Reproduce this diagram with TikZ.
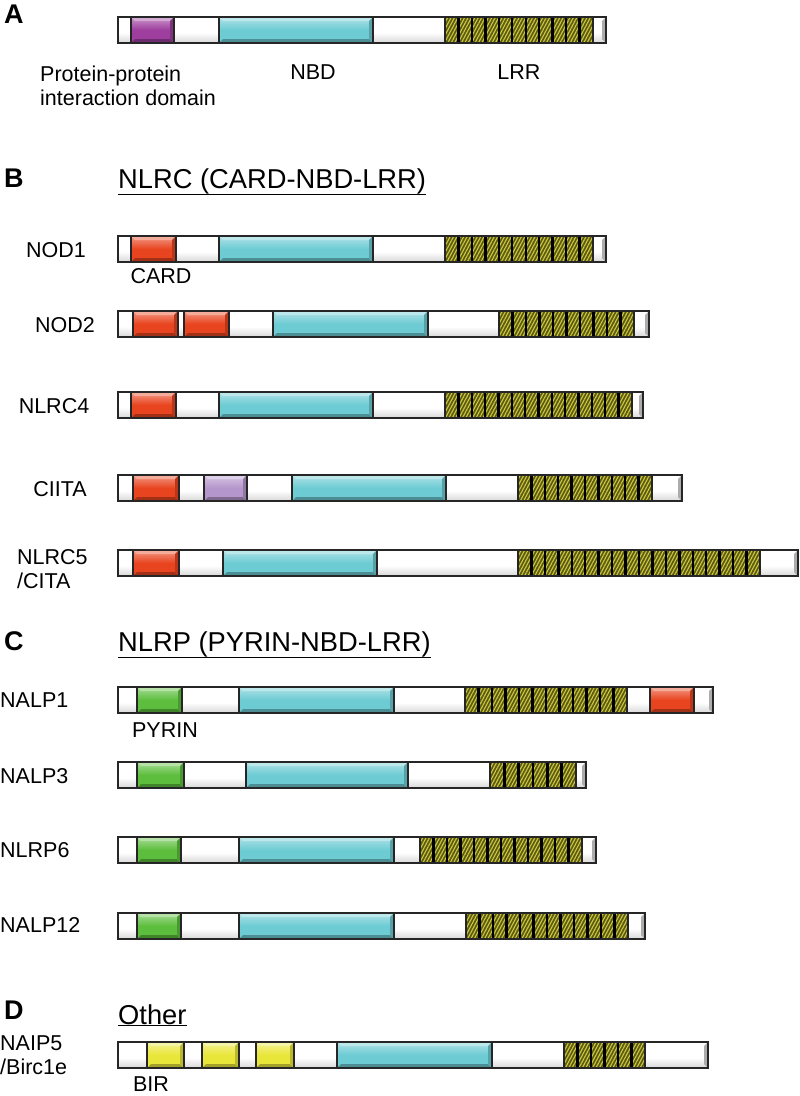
\documentclass[tikz,border=0pt]{standalone}
\usepackage{fontspec}
\setmainfont{Liberation Sans}
\usetikzlibrary{positioning, patterns.meta}
\definecolor{nbdcyan}{HTML}{6DCBD3}
\definecolor{cardred}{HTML}{E8441F}
\definecolor{ppipurple}{HTML}{9E3E9E}
\definecolor{lilac}{HTML}{B596CC}
\definecolor{pyringreen}{HTML}{5DBE3E}
\definecolor{biryellow}{HTML}{E9E63A}
\definecolor{lrrolive}{HTML}{5A5A10}
\definecolor{lrrstripe}{HTML}{CFC842}

\pgfdeclareverticalshading{capshade}{100bp}{color(0bp)=(gray!70); color(45bp)=(white); color(100bp)=(white)}
\def\barht{26}

% white linker and end cap
\newcommand{\segw}[3]{\fill[shading=capshade] (#1,#3) rectangle (#2,#3+\barht);}
\newcommand{\sege}[3]{\segw{#1}{#2}{#3}
  \fill[gray!65] (#2,#3) -- (#2,#3+\barht) -- (#2-4,#3+\barht-4) -- (#2-4,#3+4) -- cycle;}
% bevelled domain
\newcommand{\bevel}[4]{%
  \fill[top color=#4!55!white, bottom color=#4, middle color=#4] (#1,#3) rectangle (#2,#3+\barht);
  \fill[#4!45!white] (#1,#3) -- (#2,#3) -- (#2-4,#3+4) -- (#1+4,#3+4) -- cycle;
  \fill[#4!70!black] (#1,#3+\barht) -- (#2,#3+\barht) -- (#2-4,#3+\barht-4) -- (#1+4,#3+\barht-4) -- cycle;
  \fill[#4!80!black] (#2,#3) -- (#2,#3+\barht) -- (#2-4,#3+\barht-4) -- (#2-4,#3+4) -- cycle;}
\newcommand{\segnbd}[3]{\bevel{#1}{#2}{#3}{nbdcyan}}
\newcommand{\segcard}[3]{\bevel{#1}{#2}{#3}{cardred}}
\newcommand{\segppi}[3]{\bevel{#1}{#2}{#3}{ppipurple}}
\newcommand{\seglil}[3]{\bevel{#1}{#2}{#3}{lilac}}
\newcommand{\segpyr}[3]{\bevel{#1}{#2}{#3}{pyringreen}}
\newcommand{\segbir}[3]{\bevel{#1}{#2}{#3}{biryellow}}
% hatched LRR repeats
\newcommand{\seglrr}[3]{%
  \fill[lrrolive] (#1,#3) rectangle (#2,#3+\barht);
  \fill[pattern={Lines[angle=62,distance=3pt,line width=1.1pt]}, pattern color=lrrstripe] (#1,#3) rectangle (#2,#3+\barht);
  \pgfmathtruncatemacro\nblk{round((#2-#1)/13.45)}
  \pgfmathsetmacro\wblk{(#2-#1)/\nblk}
  \foreach \k in {1,...,\nblk} {\draw[line width=2.4pt] ({#1+\k*\wblk},#3) -- ++(0,\barht);}}
% one protein: #1 top, #2 segments x1/x2/kind
\newcommand{\protbar}[2]{%
  \foreach \xa/\xb/\kind in {#2} {\csname seg\kind\endcsname{\xa}{\xb}{#1}}
  \foreach \xa/\xb/\kind in {#2} {\draw[segline] (\xa,#1) rectangle (\xb,#1+\barht);}}

\begin{document}
\begin{tikzpicture}[x=1pt, y=-1pt,
  lbl/.style={font=\fontsize{21.5}{26}\selectfont, inner sep=0pt, anchor=base},
  lblw/.style={lbl, anchor=base west},
  hdr/.style={font=\fontsize{27.3}{30}\selectfont, inner sep=0pt, anchor=base west},
  panel/.style={font=\bfseries\fontsize{27}{30}\selectfont, inner sep=0pt, anchor=base west},
  segline/.style={draw=black!85, line width=1.4pt}]
\useasboundingbox (0,0) rectangle (800,1096);

% A: general layout
\node[panel] (pA) at (4,23) {A};
\protbar{17}{118/131/w, 131/174/ppi, 174/219/w, 219/373/nbd, 373/445/w, 445/593/lrr, 593/606/e}
\node[lblw] (ppi1) at (40,81) {Protein-protein};
\node[lblw] (ppi2) at (40,105) {interaction domain};
\node[lbl] (nbd) at (313,79) {NBD};
\node[lbl] (lrr) at (519,79) {LRR};

% B: NLRC
\node[panel] (pB) at (4,187) {B};
\node[hdr] (hB) at (118,188) {NLRC (CARD-NBD-LRR)};
\draw[line width=1.2pt] ([yshift=-1pt]hB.south west) -- ([yshift=-1pt]hB.south east);

\node[lbl] (nod1) at (56,257) {NOD1};
\protbar{236}{118/131/w, 131/176/card, 176/219/w, 219/373/nbd, 373/445/w, 445/593/lrr, 593/606/e}
\node[lbl] (card) at (161,283) {CARD};

\node[lbl] (nod2) at (65,332) {NOD2};
\protbar{311}{118/133/w, 133/178/card, 178/184/w, 184/229/card, 229/273/w, 273/428/nbd, 428/499/w, 499/634/lrr, 634/649/e}

\node[lbl] (nlrc4) at (54,413) {NLRC4};
\protbar{392}{118/131/w, 131/176/card, 176/219/w, 219/373/nbd, 373/445/w, 445/632/lrr, 632/643/e}

\node[lbl] (ciita) at (60,496) {CIITA};
\protbar{475}{118/133/w, 133/179/card, 179/204/w, 204/247/lil, 247/292/w, 292/446/nbd, 446/518/w, 518/652/lrr, 652/682/e}

\node[lblw] (nlrc5) at (17,564) {NLRC5};
\node[lblw] (cita) at (17,588) {/CITA};
\protbar{550}{118/133/w, 133/179/card, 179/223/w, 223/377/nbd, 377/518/w, 518/760/lrr, 760/798/e}

% C: NLRP
\node[panel] (pC) at (4,650) {C};
\node[hdr] (hC) at (118,651) {NLRP (PYRIN-NBD-LRR)};
\draw[line width=1.2pt] ([yshift=-1pt]hC.south west) -- ([yshift=-1pt]hC.south east);

\node[lblw] (nalp1) at (0,707) {NALP1};
\protbar{687}{118/137/w, 137/182/pyr, 182/239/w, 239/394/nbd, 394/465/w, 465/627/lrr, 627/650/w, 650/694/card, 694/713/e}
\node[lbl] (pyrin) at (165,737) {PYRIN};

\node[lblw] (nalp3) at (0,783) {NALP3};
\protbar{762}{118/137/w, 137/184/pyr, 184/246/w, 246/408/nbd, 408/490/w, 490/576/lrr, 576/586/e}

\node[lblw] (nlrp6) at (0,857) {NLRP6};
\protbar{837}{118/137/w, 137/181/pyr, 181/239/w, 239/394/nbd, 394/420/w, 420/582/lrr, 582/596/e}

\node[lblw] (nalp12) at (0,932) {NALP12};
\protbar{913}{118/137/w, 137/181/pyr, 181/239/w, 239/394/nbd, 394/466/w, 466/628/lrr, 628/645/e}

% D: other
\node[panel] (pD) at (4,1019) {D};
\node[hdr] (hD) at (118,1024) {Other};
\draw[line width=1.2pt] ([yshift=-1pt]hD.south west) -- ([yshift=-1pt]hD.south east);

\node[lblw] (naip5) at (0,1050) {NAIP5};
\node[lblw] (birc) at (0,1074) {/Birc1e};
\protbar{1042}{118/147/w, 147/184/bir, 184/202/w, 202/239/bir, 239/256/w, 256/294/bir, 294/337/w, 337/492/nbd, 492/564/w, 564/645/lrr, 645/708/e}
\node[lbl] (bir) at (151,1091) {BIR};
\end{tikzpicture}
\end{document}
